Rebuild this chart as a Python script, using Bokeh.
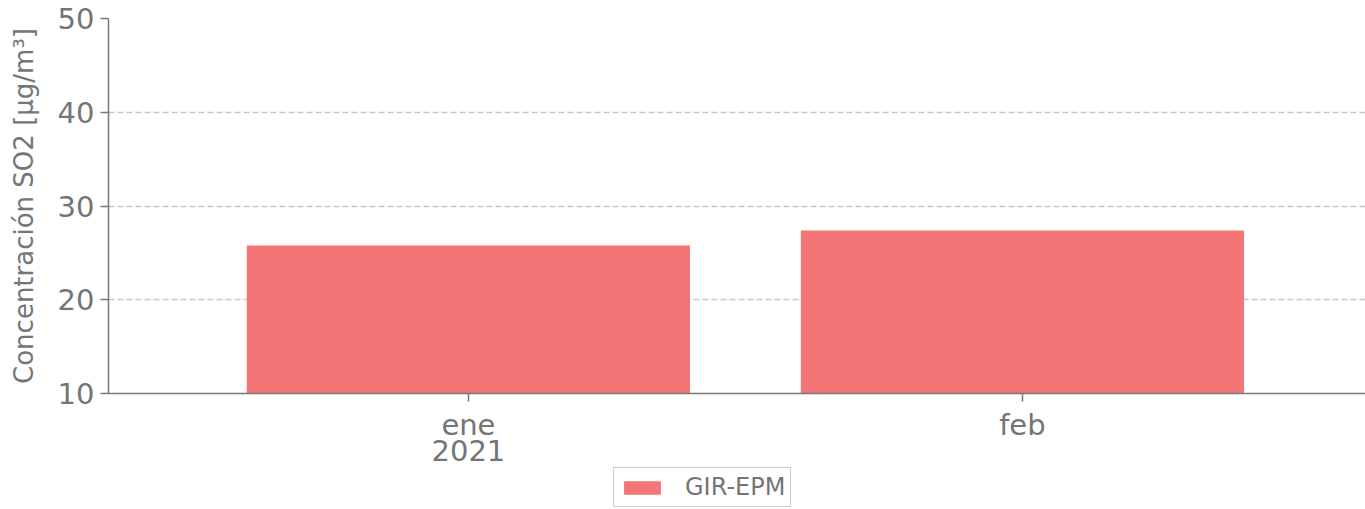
import pandas as pd
from bokeh.plotting import figure
from bokeh.layouts import column
from bokeh.models import (ColumnDataSource, FixedTicker, Range1d, Legend,
                          LegendItem, LinearAxis)
from bokeh.embed import file_html
from bokeh.resources import INLINE

# ---- data ----
months = ["2021-01-01", "2021-02-01"]
month_labels = ["ene", "feb"]
year_labels = ["2021", ""]
so2 = [25.8, 27.4]
series_name = "GIR-EPM"
y_ticks = [10, 20, 30, 40, 50]

# positions in days since the first month
t0 = pd.Timestamp(months[0])
xdays = [(pd.Timestamp(m) - t0).days for m in months]
bar_width = 0.8 * 31

src = ColumnDataSource(dict(x=xdays, top=so2))

FONT = "DejaVu Sans"
TXT = "#757575"
AX = "#777777"
BAR = "#F47575"

p = figure(frame_width=1257, frame_height=375, output_backend="svg",
           toolbar_location=None,
           x_range=Range1d(xdays[0] - 20.14, xdays[1] + 19.2),
           y_range=Range1d(10, 50),
           min_border_left=108, min_border_top=18, min_border_right=0,
           min_border_bottom=73)
p.outline_line_color = None
p.background_fill_color = "white"
p.border_fill_color = "white"

r = p.vbar(x="x", top="top", bottom=10, width=bar_width, source=src,
           fill_color=BAR, line_color=None)

# grids
p.xgrid.visible = False
p.ygrid.grid_line_color = "#c8c8c8"
p.ygrid.grid_line_width = 1.5
p.ygrid.grid_line_dash = "6 3"
p.ygrid.ticker = FixedTicker(ticks=y_ticks)

# y axis
p.yaxis.ticker = FixedTicker(ticks=y_ticks)
p.yaxis.axis_label = "Concentración SO2 [μg/m³]"
p.yaxis.axis_label_text_font = FONT
p.yaxis.axis_label_text_font_style = "normal"
p.yaxis.axis_label_text_font_size = "26px"
p.yaxis.axis_label_text_color = TXT
p.yaxis.axis_label_standoff = 16

# x axis (months)
p.xaxis.ticker = FixedTicker(ticks=xdays)
p.xaxis.major_label_overrides = {xdays[i]: month_labels[i] for i in range(len(xdays))}

for ax in (p.xaxis, p.yaxis):
    ax.major_label_text_font = FONT
    ax.major_label_text_font_size = "29px"
    ax.major_label_text_color = TXT
    ax.axis_line_color = AX
    ax.axis_line_width = 1.5
    ax.major_tick_line_color = AX
    ax.major_tick_line_width = 1.5
    ax.major_tick_out = 8
    ax.major_tick_in = 0
    ax.minor_tick_line_color = None
    ax.major_label_standoff = 6

# second x axis for the year line
yax = LinearAxis(ticker=FixedTicker(ticks=xdays),
                 major_label_overrides={xdays[i]: year_labels[i] for i in range(len(xdays))},
                 axis_line_color=None, major_tick_line_color=None,
                 minor_tick_line_color=None, major_tick_out=0, major_tick_in=0,
                 major_label_standoff=-5, major_label_text_font=FONT,
                 major_label_text_font_size="29px", major_label_text_color=TXT)
p.add_layout(yax, "below")

# ---- legend strip below the chart ----
q = figure(frame_width=1365, frame_height=43, output_backend="svg",
           toolbar_location=None, x_axis_location=None, y_axis_location=None,
           x_range=Range1d(0, 1), y_range=Range1d(0, 1),
           min_border=0)
q.outline_line_color = None
q.xgrid.visible = False
q.ygrid.visible = False
q.background_fill_color = "white"
q.border_fill_color = "white"
# legend proxy: same style as the bars, kept outside the visible range
lr = q.vbar(x=[5], top=[1], width=0.1, fill_color=BAR, line_color=None)

legend = Legend(items=[LegendItem(label=series_name, renderers=[lr])],
                location=(613, 2), orientation="horizontal",
                label_text_font=FONT, label_text_font_size="24px",
                label_text_color=TXT, border_line_color="#999999",
                border_line_width=1.5, glyph_width=46, glyph_height=17,
                padding=5, margin=0, label_standoff=20,
                background_fill_color="white")
q.add_layout(legend, "center")

layout = column(p, q, spacing=0)
open("out.html", "w").write(file_html(layout, INLINE))
